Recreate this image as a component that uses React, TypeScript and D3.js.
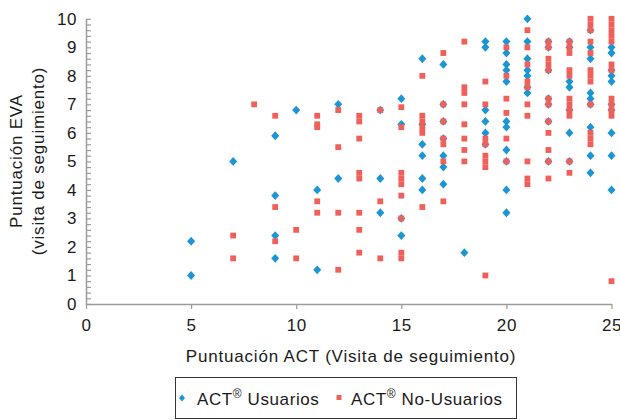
import { useEffect, useRef } from 'react'
import * as d3 from 'd3'

// [ACT score, EVA score]
const usuarios: [number, number][] = [
  [5, 2.2], [5, 1.0],
  [7, 5.0],
  [9, 5.9], [9, 3.8], [9, 2.4], [9, 1.6],
  [10, 6.8],
  [11, 4.0], [11, 1.2],
  [12, 7.0], [12, 4.4],
  [14, 6.8], [14, 4.4], [14, 3.2],
  [15, 7.2], [15, 6.3], [15, 3.0], [15, 2.4],
  [16, 8.6], [16, 6.3], [16, 5.6], [16, 5.2], [16, 4.4], [16, 4.0],
  [17, 8.4], [17, 7.0], [17, 6.4], [17, 5.8], [17, 5.2], [17, 4.8], [17, 4.2],
  [18, 1.8],
  [19, 9.2], [19, 9.0], [19, 6.8], [19, 6.4], [19, 6.0], [19, 5.6],
  [20, 9.2], [20, 8.8], [20, 8.4], [20, 8.2], [20, 7.8], [20, 6.4], [20, 6.2], [20, 5.4], [20, 5.0], [20, 4.0], [20, 3.2],
  [21, 10.0], [21, 9.2], [21, 8.6], [21, 8.2], [21, 8.0], [21, 7.6], [21, 7.4],
  [22, 9.2], [22, 9.0], [22, 8.2], [22, 7.2], [22, 7.0], [22, 6.4], [22, 5.0],
  [23, 9.2], [23, 9.0], [23, 7.8], [23, 7.6], [23, 6.8], [23, 6.0], [23, 5.0],
  [24, 9.6], [24, 9.0], [24, 8.6], [24, 7.4], [24, 7.2], [24, 7.0], [24, 6.2], [24, 5.2], [24, 4.6],
  [25, 9.0], [25, 8.8], [25, 8.2], [25, 8.0], [25, 7.8], [25, 7.0], [25, 6.8], [25, 6.0], [25, 5.2], [25, 4.0],
]

const noUsuarios: [number, number][] = [
  [7, 2.4], [7, 1.6],
  [8, 7.0],
  [9, 6.6], [9, 3.4], [9, 2.2],
  [10, 2.6], [10, 1.6],
  [11, 6.6], [11, 6.3], [11, 6.2], [11, 3.6], [11, 3.2],
  [12, 6.8], [12, 5.5], [12, 3.2], [12, 1.2],
  [13, 6.6], [13, 6.4], [13, 5.8], [13, 4.6], [13, 4.4], [13, 3.2], [13, 2.6], [13, 1.8],
  [14, 6.8], [14, 3.6], [14, 1.6],
  [15, 6.9], [15, 6.2], [15, 4.6], [15, 4.4], [15, 4.2], [15, 3.8], [15, 3.0], [15, 1.8], [15, 1.6],
  [16, 8.0], [16, 6.6], [16, 6.4], [16, 6.2], [16, 6.0], [16, 3.4],
  [17, 8.8], [17, 7.0], [17, 6.4], [17, 5.8], [17, 5.6], [17, 5.0], [17, 3.6],
  [18, 9.2], [18, 7.6], [18, 7.4], [18, 7.0], [18, 6.3], [18, 5.8], [18, 5.4], [18, 5.0],
  [19, 7.8], [19, 7.0], [19, 5.8], [19, 5.6], [19, 5.2], [19, 5.0], [19, 4.8], [19, 1.0],
  [20, 9.0], [20, 8.0], [20, 7.2], [20, 6.7], [20, 5.8], [20, 5.0],
  [21, 9.6], [21, 9.0], [21, 8.4], [21, 7.8], [21, 7.6], [21, 7.0], [21, 6.6], [21, 5.0], [21, 4.4], [21, 4.2],
  [22, 9.2], [22, 9.0], [22, 8.6], [22, 8.4], [22, 8.2], [22, 7.2], [22, 7.0], [22, 6.4], [22, 6.0], [22, 5.4], [22, 5.0], [22, 4.4],
  [23, 9.2], [23, 9.0], [23, 8.8], [23, 8.2], [23, 8.0], [23, 7.2], [23, 7.0], [23, 6.8], [23, 6.6], [23, 5.0], [23, 4.6],
  [24, 10.0], [24, 9.8], [24, 9.6], [24, 9.2], [24, 8.8], [24, 8.2], [24, 8.0], [24, 7.8], [24, 7.0], [24, 6.0], [24, 5.8], [24, 5.6],
  [25, 10.0], [25, 9.8], [25, 9.6], [25, 9.4], [25, 9.2], [25, 8.4], [25, 8.2], [25, 7.2], [25, 7.0], [25, 6.8], [25, 6.6], [25, 0.8],
]

const xTicks = [0, 5, 10, 15, 20, 25]
const yTicks = [0, 1, 2, 3, 4, 5, 6, 7, 8, 9, 10]
const seriesLabels = ['Usuarios', 'No-Usuarios']

const BLUE = '#1b95d3'
const RED = '#f0605a'
const AXIS = '#9c9c9c'
const FONT = '"Liberation Sans", Arial, sans-serif'

export default function App() {
  const svgRef = useRef<SVGSVGElement>(null)

  useEffect(() => {
    if (!svgRef.current) return
    const svg = d3.select(svgRef.current)
    svg.selectAll('*').remove()

    const x = d3.scaleLinear().domain([0, 25]).range([86, 611.5])
    const y = d3.scaleLinear().domain([0, 10]).range([304, 18.8])

    // minor ticks every 0.2 on the y axis, labels only on integers
    const yMinor = d3.range(0, 51).map(i => i / 5)

    const yAxis = svg.append('g')
      .attr('transform', `translate(${x(0)},0)`)
      .call(d3.axisLeft(y)
        .tickValues(yMinor)
        .tickSize(-5)
        .tickSizeOuter(0)
        .tickPadding(9)
        .tickFormat(d => (yTicks.includes(+d) ? String(d) : '')))

    const xAxis = svg.append('g')
      .attr('transform', `translate(0,${y(0)})`)
      .call(d3.axisBottom(x)
        .tickValues(xTicks)
        .tickSize(5)
        .tickSizeOuter(0)
        .tickPadding(10))

    ;[yAxis, xAxis].forEach(g => {
      g.selectAll('.domain').attr('stroke', AXIS).attr('stroke-width', 1.5)
      g.selectAll('.tick line').attr('stroke', AXIS).attr('stroke-width', 1.2)
      g.selectAll('text')
        .attr('font-family', FONT)
        .attr('font-size', 17)
        .attr('letter-spacing', 0.6)
        .attr('fill', '#1a1a1a')
    })

    // points: users first, non-users on top
    const diamond = 'M0,-4.4L4,0L0,4.4L-4,0Z'
    svg.append('g')
      .selectAll('path')
      .data(usuarios)
      .join('path')
      .attr('d', diamond)
      .attr('transform', d => `translate(${x(d[0])},${y(d[1])})`)
      .attr('fill', BLUE)

    const sq = 5.8
    svg.append('g')
      .selectAll('rect')
      .data(noUsuarios)
      .join('rect')
      .attr('x', d => x(d[0]) - sq / 2)
      .attr('y', d => y(d[1]) - sq / 2)
      .attr('width', sq)
      .attr('height', sq)
      .attr('fill', RED)

    // axis titles
    svg.append('text')
      .attr('x', 351)
      .attr('y', 362)
      .attr('text-anchor', 'middle')
      .attr('font-family', FONT)
      .attr('font-size', 17)
      .attr('letter-spacing', 0.8)
      .attr('fill', '#1a1a1a')
      .text('Puntuación ACT (Visita de seguimiento)')

    const yTitle = svg.append('g').attr('transform', 'translate(0,161) rotate(-90)')
    yTitle.append('text')
      .attr('x', 0)
      .attr('y', 22)
      .attr('text-anchor', 'middle')
      .attr('font-family', FONT)
      .attr('font-size', 17)
      .attr('letter-spacing', 0.8)
      .attr('fill', '#1a1a1a')
      .text('Puntuación EVA')
    yTitle.append('text')
      .attr('x', 0)
      .attr('y', 44)
      .attr('text-anchor', 'middle')
      .attr('font-family', FONT)
      .attr('font-size', 17)
      .attr('letter-spacing', 0.8)
      .attr('fill', '#1a1a1a')
      .text('(visita de seguimiento)')

    // legend
    const legend = svg.append('g')
    legend.append('rect')
      .attr('x', 175.5)
      .attr('y', 377.5)
      .attr('width', 341)
      .attr('height', 41)
      .attr('fill', '#fff')
      .attr('stroke', '#333')
      .attr('stroke-width', 1)

    legend.append('path')
      .attr('d', 'M0,-3.4L3,0L0,3.4L-3,0Z')
      .attr('transform', 'translate(182,398)')
      .attr('fill', BLUE)
    legend.append('rect')
      .attr('x', 336.5)
      .attr('y', 395)
      .attr('width', 5)
      .attr('height', 5)
      .attr('fill', RED)

    const itemX = [197, 351]
    seriesLabels.forEach((label, i) => {
      const t = legend.append('text')
        .attr('x', itemX[i])
        .attr('y', 405)
        .attr('font-family', FONT)
        .attr('font-size', 17)
        .attr('letter-spacing', 0.6)
        .attr('fill', '#1a1a1a')
      t.append('tspan').text('ACT')
      t.append('tspan').attr('font-size', 12).attr('dy', -7).text('®')
      t.append('tspan').attr('dy', 7).text(` ${label}`)
    })
  }, [])

  return (
    <svg
      ref={svgRef}
      width={620}
      height={420}
      style={{ position: 'absolute', left: 0, top: 0, background: '#fff' }}
    />
  )
}
